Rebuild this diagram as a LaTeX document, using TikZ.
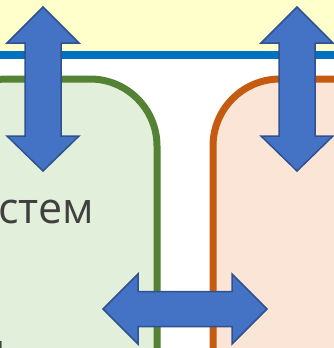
\documentclass[tikz,border=0pt]{standalone}
\usepackage{fontspec}
\setmainfont{Open Sans}
\begin{document}
\begin{tikzpicture}[x=1pt,y=-1pt,
  band/.style={fill=bandyellow},
  rule/.style={draw=ruleblue,line width=8pt},
  greenbox/.style={fill=greenfill,draw=greenline,line width=7pt,rounded corners=67pt},
  orangebox/.style={fill=orangefill,draw=orangeline,line width=7pt,rounded corners=67pt},
  bigarrow/.style={fill=arrowfill,draw=arrowline,line width=1.5pt,line join=miter},
  label/.style={inner sep=0pt,text=textgray,font=\fontsize{43}{51}\selectfont}]
\definecolor{bandyellow}{HTML}{FFFFCC}
\definecolor{ruleblue}{HTML}{0070C0}
\definecolor{greenfill}{HTML}{E2EFDA}
\definecolor{greenline}{HTML}{548235}
\definecolor{orangefill}{HTML}{FBE5D6}
\definecolor{orangeline}{HTML}{C55A11}
\definecolor{arrowfill}{HTML}{4472C4}
\definecolor{arrowline}{HTML}{2F528F}
\definecolor{textgray}{HTML}{404040}
\useasboundingbox (0,0) rectangle (333,348);
\fill[white] (0,0) rectangle (333,348);
% top band with its blue rule
\fill[band] (-10,-10) rectangle (343,51);
\draw[rule] (-10,55) -- (343,55);
% left (green) and right (orange) panels
\path[greenbox] (-60,420) -- (-60,79) -- (157,79) -- (157,420) -- cycle;
\path[orangebox] (400,420) -- (400,79) -- (213,79) -- (213,420) -- cycle;
% panel text
\node[label,anchor=base west] (t1) at (-2,223) {стем};
\node[label,anchor=base east] (t2) at (6,364) {н};
% vertical double arrows
\path[bigarrow] (43,7) -- (79,43) -- (61,43) -- (61,136) -- (79,136) -- (43,171)
  -- (7,136) -- (25,136) -- (25,43) -- (7,43) -- cycle;
\path[bigarrow] (297,7) -- (333,43) -- (315,43) -- (315,136) -- (333,136) -- (297,171)
  -- (261,136) -- (279,136) -- (279,43) -- (261,43) -- cycle;
% horizontal double arrow between the panels
\path[bigarrow] (103,309) -- (138,274) -- (138,291.5) -- (232,291.5) -- (232,274) -- (267,309)
  -- (232,344) -- (232,326.5) -- (138,326.5) -- (138,344) -- cycle;
\end{tikzpicture}
\end{document}
